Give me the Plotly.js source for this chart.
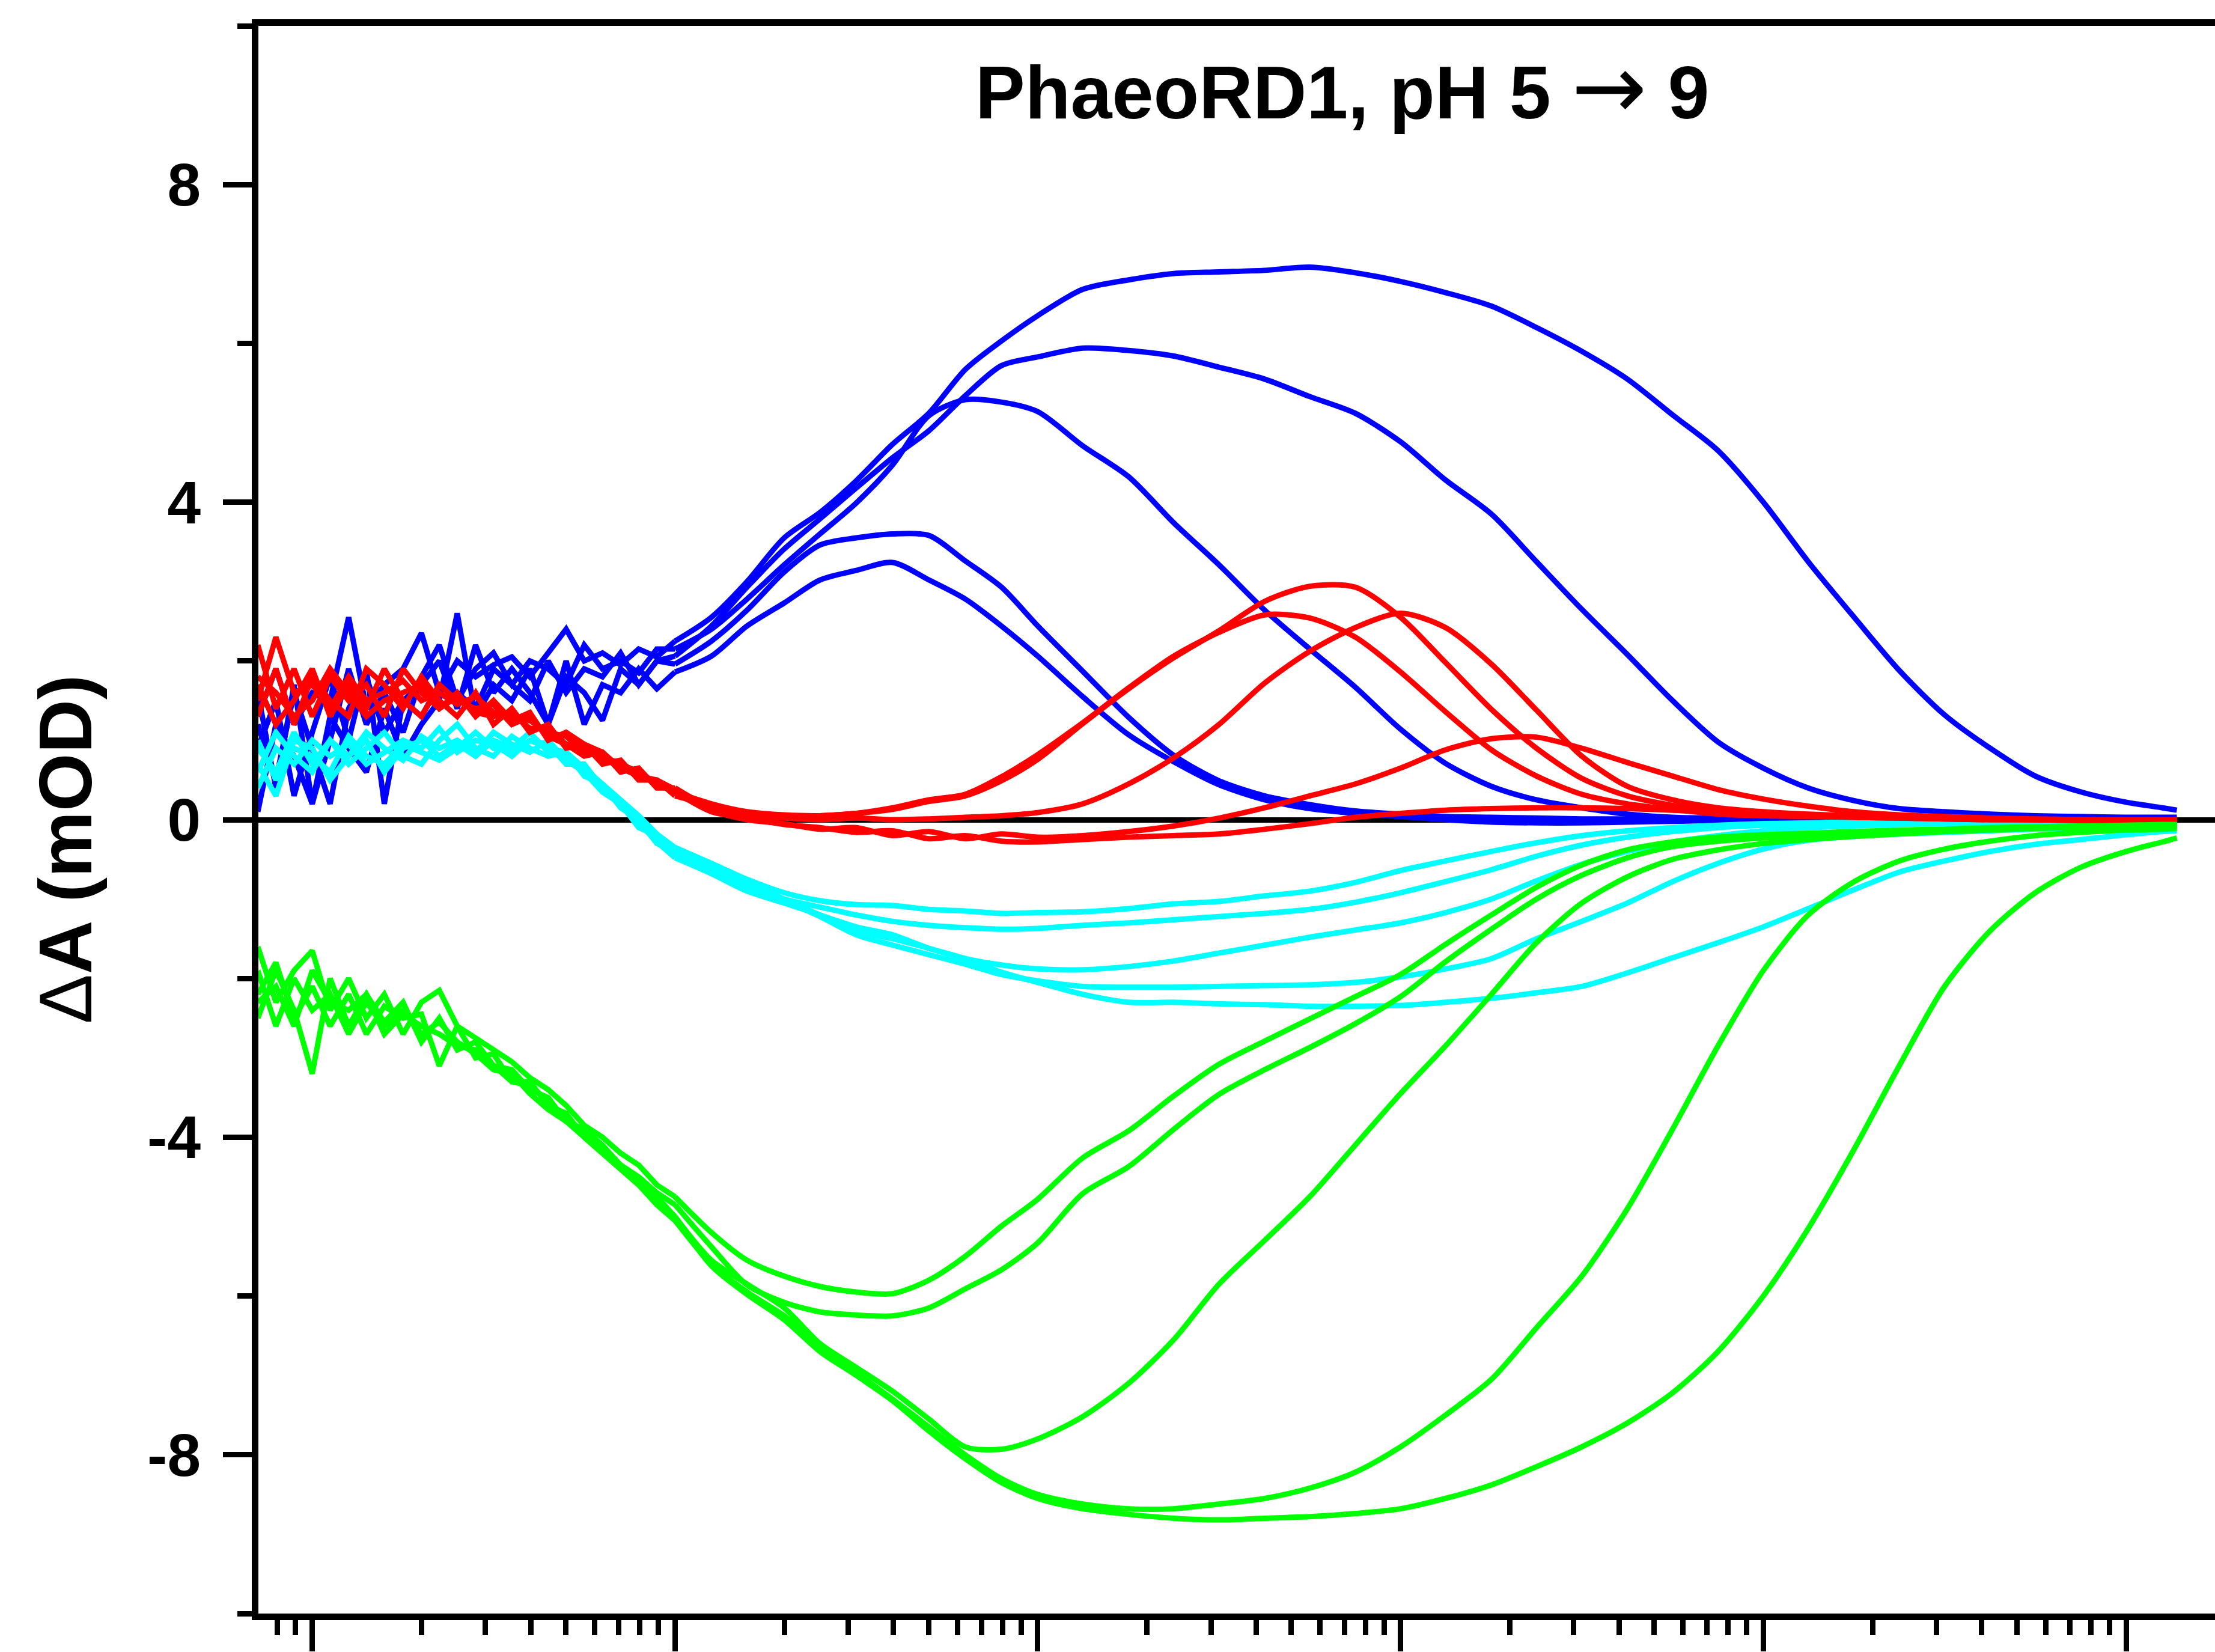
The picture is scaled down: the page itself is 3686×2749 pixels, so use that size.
<!DOCTYPE html>
<html><head><meta charset="utf-8">
<script src="https://cdn.plot.ly/plotly-3.0.1.min.js"></script>
<style>html,body{margin:0;padding:0;background:#fff}#chart{width:3686px;height:2749px}</style>
</head><body><div id="chart"></div>
<script>
// time axis (s), log-spaced sampling
const time = [7.08e-8, 7.94e-8, 8.91e-8, 1.00e-7, 1.12e-7, 1.26e-7, 1.41e-7, 1.58e-7, 1.78e-7, 2.00e-7,
  2.24e-7, 2.51e-7, 2.82e-7, 3.16e-7, 3.55e-7, 3.98e-7, 4.47e-7, 5.01e-7, 5.62e-7, 6.31e-7,
  7.08e-7, 7.94e-7, 8.91e-7, 1.00e-6, 1.26e-6, 1.58e-6, 2.00e-6, 2.51e-6, 3.16e-6, 3.98e-6,
  5.01e-6, 6.31e-6, 7.94e-6, 1.00e-5, 1.33e-5, 1.78e-5, 2.37e-5, 3.16e-5, 4.22e-5, 5.62e-5,
  7.50e-5, 1.00e-4, 1.33e-4, 1.78e-4, 2.37e-4, 3.16e-4, 4.22e-4, 5.62e-4, 7.50e-4, 1.00e-3,
  1.33e-3, 1.78e-3, 2.37e-3, 3.16e-3, 4.22e-3, 5.62e-3, 7.50e-3, 1.00e-2, 1.26e-2, 1.38e-2];

// blue traces (mOD)
const blue1 = [1.3, 1.9, 1.2, 1.6, 1.5, 2.55, 1.4, 1.7, 1.9, 2.35, 1.6, 2.0, 1.8, 1.95, 2.05, 1.8, 2.1, 2.4, 2.0, 2.1, 1.95, 2.15, 2.05, 2.25,
  2.55, 3.0, 3.55, 3.87, 4.27, 4.73, 5.12, 5.67, 6.03, 6.35, 6.68, 6.8, 6.88, 6.9, 6.92, 6.96, 6.89, 6.78, 6.64, 6.47, 6.2, 5.9, 5.55, 5.1, 4.65, 4.0, 3.25, 2.55, 1.88, 1.32, 0.9, 0.55, 0.35, 0.22, 0.15, 0.12];
const blue2 = [0.9, 1.5, 0.3, 1.1, 1.8, 1.0, 1.9, 0.2, 1.5, 1.7, 2.0, 1.4, 2.2, 1.6, 1.9, 1.6, 1.2, 1.8, 1.6, 1.25, 1.9, 1.7, 2.0, 2.06,
  2.44, 2.93, 3.41, 3.79, 4.18, 4.56, 4.9, 5.34, 5.72, 5.83, 5.94, 5.91, 5.84, 5.7, 5.55, 5.33, 5.12, 4.76, 4.28, 3.85, 3.25, 2.65, 2.08, 1.5, 0.98, 0.65, 0.4, 0.24, 0.14, 0.1, 0.07, 0.05, 0.04, 0.03, 0.03, 0.03];
const blue3 = [1.6, 0.4, 1.7, 0.2, 1.0, 1.9, 1.2, 1.6, 1.1, 1.8, 2.2, 1.5, 1.9, 2.1, 1.7, 2.0, 1.9, 1.7, 2.2, 1.9, 2.0, 1.85, 2.15, 2.15,
  2.4, 2.78, 3.21, 3.6, 3.99, 4.47, 5.09, 5.29, 5.26, 5.14, 4.71, 4.32, 3.74, 3.21, 2.64, 2.15, 1.67, 1.14, 0.71, 0.42, 0.25, 0.15, 0.07, 0.03, 0.02, 0.01, 0.01, 0.0, 0.0, 0.0, 0.0, 0.0, 0.0, 0.0, 0.0, 0.0];
const blue4 = [1.2, 0.5, 1.6, 0.9, 0.2, 1.4, 1.8, 1.1, 1.5, 1.3, 1.7, 1.6, 1.4, 1.9, 1.7, 1.5, 2.0, 1.6, 1.9, 1.8, 2.1, 1.7, 2.0, 1.96,
  2.25, 2.64, 3.12, 3.46, 3.55, 3.6, 3.58, 3.26, 2.93, 2.44, 1.87, 1.29, 0.81, 0.49, 0.3, 0.19, 0.11, 0.07, 0.04, 0.03, 0.02, 0.01, 0.01, 0.0, 0.0, 0.0, 0.0, 0.0, 0.0, 0.0, 0.0, 0.0, 0.0, 0.0, 0.0, 0.0];
const blue5 = [0.1, 1.2, 0.8, 0.2, 1.3, 0.9, 0.6, 1.4, 0.8, 1.2, 1.5, 2.6, 1.3, 1.7, 1.5, 1.9, 1.2, 2.0, 1.2, 1.7, 1.6, 1.9, 1.65, 1.86,
  2.06, 2.44, 2.73, 3.02, 3.14, 3.24, 3.02, 2.78, 2.44, 2.06, 1.55, 1.07, 0.73, 0.44, 0.25, 0.14, 0.08, 0.04, 0.0, -0.03, -0.04, -0.04, -0.03, -0.02, -0.01, 0.0, 0.0, 0.0, 0.0, 0.0, 0.0, 0.0, 0.0, 0.0, 0.0, 0.0];

// red traces
const red1 = [1.5, 2.3, 1.6, 1.7, 1.4, 1.8, 1.5, 1.6, 1.75, 1.5, 1.6, 1.45, 1.55, 1.35, 1.3, 1.25, 1.1, 1.05, 0.85, 0.8, 0.7, 0.6, 0.45, 0.35,
  0.2, 0.1, 0.06, 0.05, 0.08, 0.13, 0.23, 0.3, 0.49, 0.76, 1.21, 1.65, 2.04, 2.38, 2.75, 2.94, 2.93, 2.55, 1.98, 1.39, 0.9, 0.52, 0.3, 0.18, 0.1, 0.07, 0.05, 0.04, 0.03, 0.02, 0.01, 0.0, 0.0, -0.01, -0.01, -0.01];
const red2 = [2.2, 1.4, 1.9, 1.3, 1.8, 1.5, 1.7, 1.3, 1.9, 1.6, 1.4, 1.6, 1.3, 1.5, 1.25, 1.35, 1.0, 1.1, 0.95, 0.7, 0.75, 0.5, 0.5, 0.3,
  0.18, 0.08, 0.04, 0.05, 0.08, 0.15, 0.25, 0.32, 0.54, 0.82, 1.22, 1.66, 2.06, 2.36, 2.58, 2.54, 2.3, 1.86, 1.36, 0.88, 0.55, 0.32, 0.2, 0.13, 0.07, 0.05, 0.04, 0.03, 0.02, 0.01, 0.0, 0.0, -0.01, -0.01, -0.01, -0.01];
const red3 = [1.3, 1.9, 1.2, 1.8, 1.5, 1.3, 1.9, 1.7, 1.4, 1.8, 1.5, 1.3, 1.6, 1.2, 1.4, 1.1, 1.2, 0.9, 0.95, 0.85, 0.6, 0.65, 0.4, 0.4,
  0.15, 0.06, 0.02, 0.0, 0.02, 0.0, 0.01, 0.03, 0.05, 0.09, 0.2, 0.45, 0.78, 1.2, 1.72, 2.12, 2.42, 2.6, 2.42, 1.96, 1.38, 0.8, 0.42, 0.25, 0.15, 0.1, 0.07, 0.05, 0.03, 0.02, 0.01, 0.0, 0.0, 0.0, 0.0, 0.0];
const red4 = [1.7, 1.2, 1.5, 1.9, 1.3, 1.7, 1.4, 1.9, 1.5, 1.3, 1.7, 1.5, 1.4, 1.45, 1.2, 1.3, 1.05, 0.95, 0.8, 0.85, 0.65, 0.55, 0.5, 0.38,
  0.12, 0.0, -0.05, -0.12, -0.1, -0.2, -0.15, -0.24, -0.18, -0.22, -0.2, -0.15, -0.08, 0.02, 0.15, 0.3, 0.45, 0.65, 0.88, 1.02, 1.04, 0.9, 0.72, 0.55, 0.38, 0.26, 0.17, 0.1, 0.06, 0.04, 0.02, 0.01, 0.0, -0.01, -0.01, -0.01];
const red5 = [1.8, 1.6, 1.3, 1.5, 1.9, 1.6, 1.3, 1.5, 1.6, 1.7, 1.4, 1.55, 1.35, 1.3, 1.35, 1.15, 1.15, 0.95, 0.9, 0.75, 0.7, 0.6, 0.45, 0.35,
  0.1, 0.02, -0.06, -0.1, -0.16, -0.14, -0.24, -0.2, -0.27, -0.28, -0.25, -0.22, -0.2, -0.18, -0.12, -0.05, 0.03, 0.08, 0.12, 0.14, 0.15, 0.15, 0.14, 0.12, 0.09, 0.07, 0.05, 0.03, 0.02, 0.01, 0.0, 0.0, -0.01, -0.01, -0.01, -0.01];

// cyan traces
const cyan1 = [0.4, 0.9, 0.7, 1.0, 0.8, 0.95, 0.7, 0.85, 1.0, 0.9, 1.15, 0.85, 1.0, 0.95, 0.8, 1.0, 0.9, 0.85, 0.65, 0.45, 0.25, 0.05, -0.18, -0.35,
  -0.55, -0.75, -0.92, -1.02, -1.07, -1.08, -1.13, -1.15, -1.18, -1.17, -1.16, -1.12, -1.06, -1.03, -0.96, -0.9, -0.79, -0.64, -0.52, -0.4, -0.29, -0.2, -0.14, -0.1, -0.07, -0.05, -0.04, -0.03, -0.03, -0.02, -0.02, -0.02, -0.01, -0.01, -0.01, -0.01];
const cyan2 = [0.9, 0.6, 1.1, 0.7, 1.0, 0.8, 1.1, 0.9, 0.75, 1.05, 0.9, 1.0, 0.85, 1.1, 0.95, 0.85, 1.0, 0.75, 0.6, 0.35, 0.2, -0.05, -0.25, -0.45,
  -0.65, -0.85, -1.0, -1.1, -1.2, -1.28, -1.33, -1.36, -1.38, -1.37, -1.33, -1.3, -1.26, -1.22, -1.18, -1.13, -1.04, -0.92, -0.78, -0.63, -0.46, -0.32, -0.22, -0.15, -0.1, -0.07, -0.05, -0.04, -0.03, -0.03, -0.02, -0.02, -0.02, -0.01, -0.01, -0.01];
const cyan3 = [0.6, 1.1, 0.8, 0.6, 1.0, 0.7, 0.9, 1.1, 0.8, 0.7, 1.0, 1.2, 0.9, 0.8, 1.05, 0.9, 0.8, 0.85, 0.55, 0.45, 0.15, 0.0, -0.3, -0.4,
  -0.62, -0.8, -1.0, -1.2, -1.4, -1.5, -1.62, -1.75, -1.83, -1.88, -1.89, -1.85, -1.78, -1.68, -1.58, -1.48, -1.39, -1.3, -1.17, -1.0, -0.77, -0.56, -0.4, -0.28, -0.2, -0.14, -0.1, -0.08, -0.06, -0.05, -0.04, -0.03, -0.03, -0.02, -0.02, -0.02];
const cyan4 = [1.0, 0.5, 0.9, 0.8, 0.6, 1.05, 0.8, 0.7, 0.95, 0.85, 0.75, 0.9, 1.1, 0.9, 0.85, 1.0, 0.95, 0.7, 0.7, 0.4, 0.2, -0.1, -0.2, -0.45,
  -0.6, -0.85, -1.02, -1.22, -1.45, -1.58, -1.7, -1.82, -1.95, -2.03, -2.1, -2.11, -2.11, -2.1, -2.09, -2.08, -2.05, -1.98, -1.88, -1.75, -1.5, -1.28, -1.05, -0.78, -0.55, -0.37, -0.26, -0.21, -0.18, -0.16, -0.14, -0.12, -0.11, -0.1, -0.09, -0.09];
const cyan5 = [0.7, 0.3, 1.0, 0.9, 0.5, 0.8, 1.0, 0.6, 0.9, 1.0, 0.8, 0.95, 0.8, 1.0, 0.9, 1.1, 0.85, 0.8, 0.6, 0.35, 0.2, -0.05, -0.28, -0.48,
  -0.68, -0.9, -1.05, -1.2, -1.35, -1.45, -1.62, -1.75, -1.92, -2.05, -2.2, -2.3, -2.3, -2.32, -2.33, -2.35, -2.35, -2.34, -2.3, -2.25, -2.18, -2.1, -1.93, -1.74, -1.55, -1.35, -1.12, -0.88, -0.66, -0.52, -0.4, -0.31, -0.25, -0.19, -0.15, -0.14];

// green traces
const green1 = [-1.6, -2.3, -1.9, -1.65, -2.4, -2.0, -2.5, -2.2, -2.7, -2.3, -2.15, -2.6, -2.75, -2.9, -3.05, -3.25, -3.4, -3.6, -3.85, -4.0, -4.2, -4.35, -4.6, -4.75,
  -5.2, -5.55, -5.75, -5.88, -5.95, -5.97, -5.8, -5.5, -5.12, -4.78, -4.26, -3.92, -3.48, -3.08, -2.79, -2.51, -2.23, -1.95, -1.57, -1.2, -0.85, -0.57, -0.38, -0.28, -0.22, -0.19, -0.17, -0.15, -0.13, -0.12, -0.1, -0.09, -0.08, -0.07, -0.06, -0.06];
const green2 = [-2.5, -1.9, -2.4, -3.2, -2.0, -2.6, -2.2, -2.55, -2.3, -2.8, -2.5, -2.9, -2.8, -3.1, -3.15, -3.4, -3.5, -3.8, -3.9, -4.1, -4.35, -4.5, -4.7, -4.85,
  -5.38, -5.86, -6.08, -6.2, -6.24, -6.25, -6.15, -5.91, -5.67, -5.33, -4.71, -4.37, -3.9, -3.46, -3.15, -2.87, -2.57, -2.23, -1.79, -1.38, -1.0, -0.7, -0.48, -0.34, -0.27, -0.23, -0.2, -0.18, -0.16, -0.14, -0.12, -0.1, -0.09, -0.08, -0.07, -0.07];
const green3 = [-2.2, -1.8, -2.5, -2.1, -2.6, -2.2, -2.7, -2.35, -2.5, -2.45, -3.1, -2.6, -3.0, -2.95, -3.3, -3.3, -3.6, -3.7, -4.0, -4.2, -4.4, -4.6, -4.8, -5.0,
  -5.55, -5.85, -6.15, -6.6, -6.9, -7.2, -7.55, -7.9, -7.93, -7.8, -7.52, -7.1, -6.55, -5.85, -5.3, -4.75, -4.1, -3.45, -2.85, -2.2, -1.55, -1.05, -0.72, -0.5, -0.38, -0.3, -0.25, -0.21, -0.18, -0.15, -0.13, -0.11, -0.1, -0.09, -0.08, -0.08];
const green4 = [-1.9, -2.6, -2.0, -2.4, -2.2, -2.7, -2.3, -2.6, -2.4, -2.7, -2.55, -2.8, -2.95, -3.15, -3.2, -3.45, -3.65, -3.8, -4.0, -4.2, -4.4, -4.6, -4.85, -5.05,
  -5.6, -5.95, -6.25, -6.65, -6.97, -7.3, -7.65, -8.0, -8.3, -8.5, -8.62, -8.68, -8.68, -8.62, -8.55, -8.42, -8.22, -7.9, -7.5, -7.05, -6.4, -5.75, -4.9, -3.9, -2.85, -1.9, -1.2, -0.78, -0.52, -0.37, -0.27, -0.2, -0.16, -0.13, -0.12, -0.11];
const green5 = [-2.3, -2.1, -2.6, -1.9, -2.3, -2.4, -2.2, -2.7, -2.45, -2.6, -2.7, -2.85, -2.9, -3.1, -3.3, -3.35, -3.55, -3.75, -3.95, -4.15, -4.35, -4.55, -4.75, -5.0,
  -5.62, -5.98, -6.3, -6.7, -7.0, -7.32, -7.7, -8.05, -8.35, -8.55, -8.68, -8.75, -8.8, -8.82, -8.8, -8.78, -8.74, -8.68, -8.55, -8.38, -8.15, -7.9, -7.6, -7.22, -6.7, -6.0, -5.15, -4.15, -3.1, -2.1, -1.4, -0.92, -0.6, -0.4, -0.28, -0.23];

const yTickVals = [-8, -4, 0, 4, 8];
const yTickText = ['-8', '-4', '0', '4', '8'];
const titleText = '<b>PhaeoRD1, pH 5 </b><span style="font-family:\'DejaVu Sans\';font-size:150px;font-weight:normal">\u2192</span><b> 9</b>';
const yTitleText = '\u0394<b>A (mOD)</b>';

const BLUE = '#0000ff', RED = '#ff0000', CYAN = '#00ffff', GREEN = '#00ff00';
const series = [
  [blue1, BLUE], [blue2, BLUE], [blue3, BLUE], [blue4, BLUE], [blue5, BLUE],
  [cyan1, CYAN], [cyan2, CYAN], [cyan3, CYAN], [cyan4, CYAN], [cyan5, CYAN],
  [red1, RED], [red2, RED], [red3, RED], [red4, RED], [red5, RED],
  [green1, GREEN], [green2, GREEN], [green3, GREEN], [green4, GREEN], [green5, GREEN]
];
const SPLIT = 23; // noisy early part drawn straight, smooth later part drawn as spline
const LW = 9;
const traces = [];
series.forEach(([y, c]) => {
  traces.push({x: time.slice(0, SPLIT + 1), y: y.slice(0, SPLIT + 1), type: 'scatter', mode: 'lines',
    line: {color: c, width: LW}, hoverinfo: 'skip', showlegend: false});
  traces.push({x: time.slice(SPLIT), y: y.slice(SPLIT), type: 'scatter', mode: 'lines',
    line: {color: c, width: LW, shape: 'spline', smoothing: 0.8}, hoverinfo: 'skip', showlegend: false});
});

const FONT = 'Liberation Sans, Arial, Helvetica, sans-serif';
const layout = {
  width: 3686, height: 2749,
  margin: {l: 430, r: 0, t: 43, b: 64},
  paper_bgcolor: '#fff', plot_bgcolor: '#fff',
  showlegend: false,
  font: {family: FONT, color: '#000'},
  title: {
    text: titleText,
    font: {family: FONT, size: 124, color: '#000'},
    x: 0.606, xref: 'container', xanchor: 'center',
    y: 0.9443, yref: 'container', yanchor: 'middle'
  },
  xaxis: {
    type: 'log', range: [-7.1484, -1.7549], autorange: false,
    showgrid: false, zeroline: false,
    showline: true, linecolor: '#000', linewidth: 11, mirror: true,
    ticks: 'outside', ticklen: 52, tickwidth: 9, tickcolor: '#000',
    dtick: 1, showticklabels: false,
    minor: {ticks: 'outside', ticklen: 25, tickwidth: 9, tickcolor: '#000', dtick: 'D1', showgrid: false},
    automargin: false
  },
  yaxis: {
    range: [-10, 10], autorange: false,
    showgrid: false,
    zeroline: true, zerolinecolor: '#000', zerolinewidth: 9,
    showline: true, linecolor: '#000', linewidth: 11, mirror: false,
    ticks: 'outside', ticklen: 48, tickwidth: 9, tickcolor: '#000',
    tickmode: 'array', tickvals: yTickVals, ticktext: yTickText,
    ticklabelstandoff: 17,
    minor: {ticks: 'outside', ticklen: 24, tickwidth: 9, tickcolor: '#000', tick0: 0, dtick: 2, showgrid: false},
    tickfont: {family: FONT, size: 100, color: '#000', weight: 'bold'},
    automargin: false
  },
  annotations: [{
    text: yTitleText, textangle: -90, showarrow: false,
    xref: 'paper', yref: 'paper', x: -0.0986, y: 0.4815,
    xanchor: 'center', yanchor: 'middle',
    font: {family: FONT, size: 124, color: '#000'}
  }]
};

Plotly.newPlot('chart', traces, layout, {staticPlot: true, displayModeBar: false});
</script></body></html>
